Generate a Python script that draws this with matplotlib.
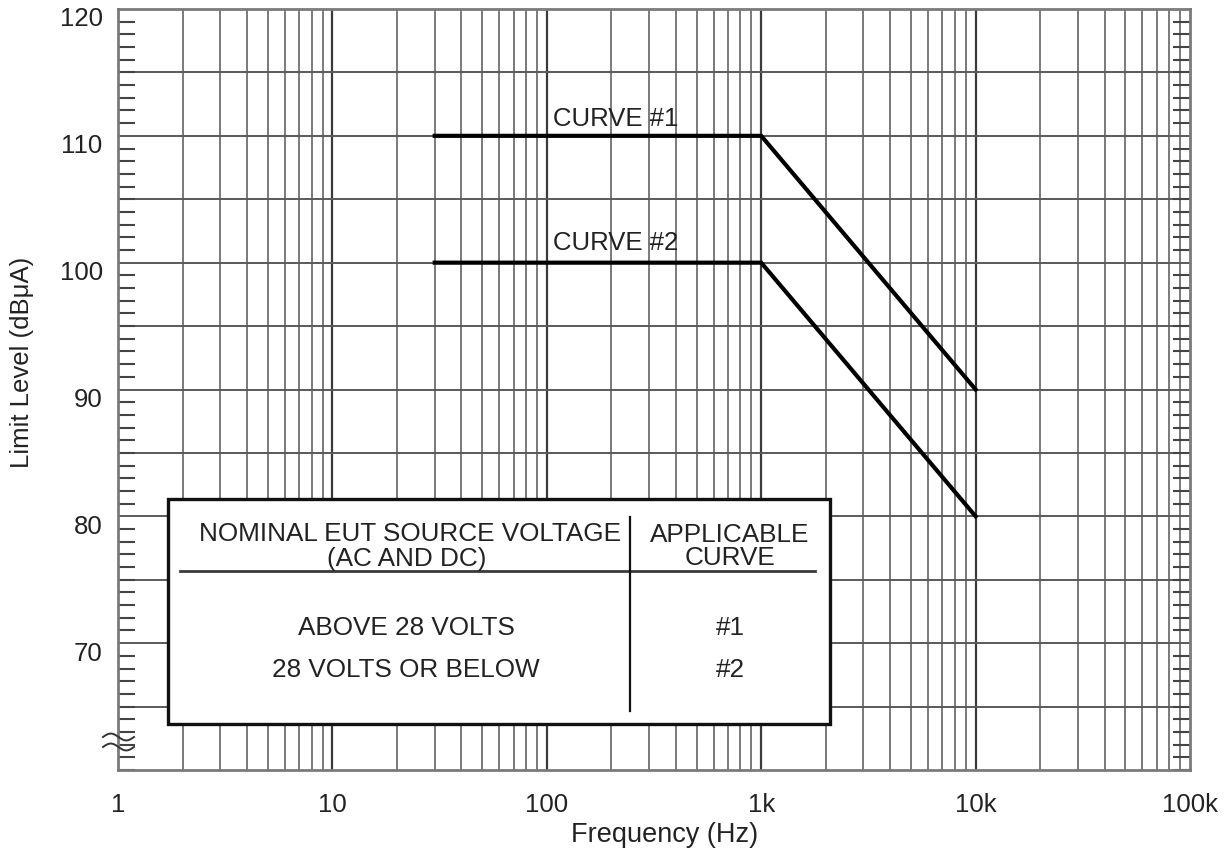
import numpy as np
import matplotlib
matplotlib.use("Agg")
import matplotlib.pyplot as plt
import matplotlib.transforms as mtransforms
from matplotlib.patches import Rectangle
from matplotlib.ticker import FixedLocator, MultipleLocator, NullFormatter

# Limit curves (frequency in Hz, level in dBuA)
freq_curve1 = [30, 1000, 10000]
level_curve1 = [110, 110, 90]
freq_curve2 = [30, 1000, 10000]
level_curve2 = [100, 100, 80]
curve_names = ["CURVE #1", "CURVE #2"]

x_ticks = [1, 10, 100, 1000, 10000, 100000]
x_tick_labels = ["1", "10", "100", "1k", "10k", "100k"]
y_ticks = [70, 80, 90, 100, 110, 120]
y_grid = [65, 70, 75, 80, 85, 90, 95, 100, 105, 110, 115]

table_header_left = ["NOMINAL EUT SOURCE VOLTAGE", "(AC AND DC)"]
table_header_right = ["APPLICABLE", "CURVE"]
table_voltage = ["ABOVE 28 VOLTS", "28 VOLTS OR BELOW"]
table_curve = ["#1", "#2"]

plt.rcParams["font.family"] = ["Liberation Sans", "DejaVu Sans"]
TXT = "#222222"

W, H = 1226, 854
fig = plt.figure(figsize=(W / 100, H / 100), dpi=100)
ax_l, ax_r, ax_t, ax_b = 118, 1190, 10, 771
ax = fig.add_axes([ax_l / W, 1 - ax_b / H, (ax_r - ax_l) / W, (ax_b - ax_t) / H])
ax.set_xscale("log")
ax.set_xlim(1, 1e5)
ax.set_ylim(60, 120)


def fx(px):
    return (px - ax_l) / (ax_r - ax_l)


def fy(py):
    return (ax_b - py) / (ax_b - ax_t)


# Log-frequency grid: 1..9 per decade, decades darker
for d in range(5):
    for k in range(1, 10):
        f = k * 10 ** d
        if f <= 1 or f >= 1e5:
            continue
        if k == 1:
            ax.axvline(f, color="#3a3a3a", lw=1.6, zorder=1)
        else:
            ax.axvline(f, color="#7a7a7a", lw=1.4, zorder=1)
for y in y_grid:
    ax.axhline(y, color="#5a5a5a", lw=1.4, zorder=1)

for s in ax.spines.values():
    s.set_color("#7a7a7a")
    s.set_linewidth(2.0)

# Ticks
ax.xaxis.set_major_locator(FixedLocator(x_ticks))
ax.set_xticklabels(x_tick_labels)
ax.xaxis.set_minor_locator(FixedLocator([]))
ax.xaxis.set_minor_formatter(NullFormatter())
ax.tick_params(axis="x", which="major", length=0, pad=16, labelsize=18.5, labelcolor=TXT)

ax.yaxis.set_major_locator(FixedLocator(y_ticks))
ax.yaxis.set_minor_locator(MultipleLocator(1))
ax.tick_params(axis="y", which="major", length=0, pad=11, labelsize=18.5, labelcolor=TXT)
ax.tick_params(axis="y", which="minor", direction="in", length=12, width=1.5,
               color="#444444", left=True, right=True)
# level labels sit a little below their grid lines
shift = mtransforms.ScaledTranslation(0, -7 / 100, fig.dpi_scale_trans)
for lbl in ax.get_yticklabels():
    lbl.set_transform(lbl.get_transform() + shift)

# Axis break mark at the bottom of the level axis
t = np.linspace(0, 1, 60)
for yc in (fy(738), fy(748)):
    xs = fx(103) + t * (fx(134) - fx(103))
    ys = yc + 0.0045 * np.sin(2 * np.pi * t)
    ax.plot(xs, ys, color="#333333", lw=1.4, transform=ax.transAxes,
            clip_on=False, zorder=6)

# Limit curves
ax.plot(freq_curve1, level_curve1, color="black", lw=3.0, zorder=4,
        solid_joinstyle="miter")
ax.plot(freq_curve2, level_curve2, color="black", lw=3.0, zorder=4,
        solid_joinstyle="miter")
ax.text(210, 111.4, curve_names[0], ha="center", va="center", fontsize=18.5,
        color=TXT, zorder=5)
ax.text(210, 101.6, curve_names[1], ha="center", va="center", fontsize=18.5,
        color=TXT, zorder=5)

# Voltage / curve selection table
box = Rectangle((fx(168), fy(725)), fx(830) - fx(168), fy(500) - fy(725),
                transform=ax.transAxes, facecolor="white", edgecolor="#111111",
                lw=2.4, zorder=7)
ax.add_patch(box)
ax.plot([fx(180), fx(815)], [fy(572), fy(572)], color="#3a3a3a", lw=2.0,
        transform=ax.transAxes, zorder=8)
ax.plot([fx(630), fx(630)], [fy(518), fy(712)], color="#111111", lw=1.6,
        transform=ax.transAxes, zorder=8)

tkw = dict(transform=ax.transAxes, ha="center", va="center", fontsize=18.8,
           color=TXT, zorder=9)
ax.text(fx(410), fy(534), table_header_left[0], **tkw)
ax.text(fx(407), fy(559), table_header_left[1], **tkw)
ax.text(fx(730), fy(535), table_header_right[0], **tkw)
ax.text(fx(730), fy(558), table_header_right[1], **tkw)
for py, volt, cur in zip((628, 670), table_voltage, table_curve):
    ax.text(fx(406), fy(py), volt, **tkw)
    ax.text(fx(730), fy(py), cur, **tkw)

# Axis titles
fig.text(665 / W, 1 - 835 / H, "Frequency (Hz)", ha="center", va="center",
         fontsize=19.5, color=TXT)
fig.text(22 / W, 1 - 362 / H, "Limit Level (dBμA)", ha="center", va="center",
         rotation=90, fontsize=18.5, color=TXT)

fig.savefig("out.png", dpi=100, facecolor="white")
